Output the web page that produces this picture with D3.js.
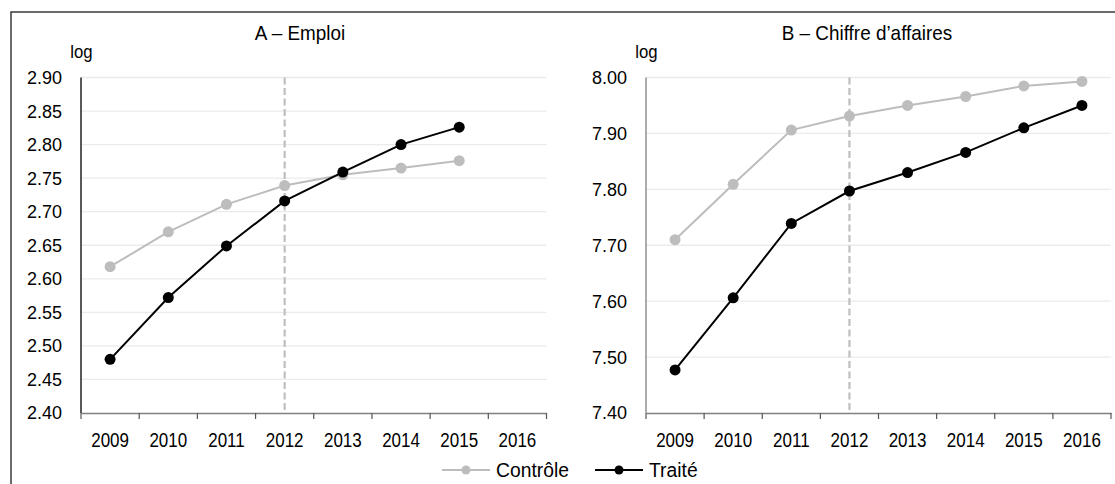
<!DOCTYPE html>
<html>
<head>
<meta charset="utf-8">
<script src="https://cdn.jsdelivr.net/npm/d3@7"></script>
<style>
  body { margin: 0; background: #fff; }
  svg text { font-family: "Liberation Sans", Arial, sans-serif; fill: #000; }
</style>
</head>
<body>
<svg id="chart" width="1115" height="484"></svg>
<script>
// years on x axis
const years = ['2009', '2010', '2011', '2012', '2013', '2014', '2015', '2016'];

// panel A - Emploi (log)
const emploiControle = [2.618, 2.670, 2.711, 2.739, 2.755, 2.765, 2.776];
const emploiTraite = [2.480, 2.572, 2.649, 2.716, 2.759, 2.800, 2.826];
const emploiTicks = [2.40, 2.45, 2.50, 2.55, 2.60, 2.65, 2.70, 2.75, 2.80, 2.85, 2.90];

// panel B - Chiffre d'affaires (log)
const caControle = [7.710, 7.809, 7.906, 7.931, 7.950, 7.966, 7.985, 7.993];
const caTraite = [7.477, 7.606, 7.739, 7.797, 7.830, 7.866, 7.910, 7.950];
const caTicks = [7.40, 7.50, 7.60, 7.70, 7.80, 7.90, 8.00];

const treatYear = '2012';
const grey = '#bdbdbd';

let svg = d3.select('#chart');

// the original font is a condensed one, no narrow face here so squeeze it
function putText(parent, x, y, txt, size, sx, anchor) {
  return parent.append('text')
    .attr('transform', `translate(${x},${y}) scale(${sx},1)`)
    .attr('text-anchor', anchor || 'start')
    .style('font-size', size + 'px')
    .text(txt);
}

// outer frame (right and bottom edges run off the picture)
svg.append('rect')
  .attr('x', 11).attr('y', 12)
  .attr('width', 1120).attr('height', 490)
  .attr('fill', 'none')
  .attr('stroke', '#3a3a3a')
  .attr('stroke-width', 1.5);

function makePanel(opts) {
  let x0 = opts.x0, x1 = opts.x1, top = 77.5, bottom = 413;

  let xScale = d3.scaleBand()
    .domain(years)
    .range([x0, x1]);

  let yScale = d3.scaleLinear()
    .domain([opts.ticks[0], opts.ticks[opts.ticks.length - 1]])
    .range([bottom, top]);

  let g = svg.append('g');

  // gridlines
  g.selectAll('.grid')
    .data(opts.ticks.slice(1))
    .enter()
    .append('line')
    .attr('x1', x0).attr('x2', x1)
    .attr('y1', (d) => yScale(d)).attr('y2', (d) => yScale(d))
    .attr('stroke', '#ebebeb')
    .attr('stroke-width', 1.3);

  // y tick labels
  g.selectAll('.ylab')
    .data(opts.ticks)
    .enter()
    .append('text')
    .attr('x', x0 - 19)
    .attr('y', (d) => yScale(d))
    .attr('dy', '0.36em')
    .attr('text-anchor', 'end')
    .style('font-size', '18px')
    .text((d) => d.toFixed(2));

  // dashed line at treatment year
  let xt = xScale(treatYear) + xScale.bandwidth() / 2;
  g.append('line')
    .attr('x1', xt).attr('x2', xt)
    .attr('y1', top).attr('y2', bottom)
    .attr('stroke', '#bfbfbf')
    .attr('stroke-width', 2.2)
    .attr('stroke-dasharray', '7,3.5');

  // y axis line
  g.append('line')
    .attr('x1', x0).attr('x2', x0)
    .attr('y1', top).attr('y2', bottom)
    .attr('stroke', opts.yAxisColor)
    .attr('stroke-width', 1.3);

  // x axis
  let xAxis = d3.axisBottom(xScale).tickSize(0);
  let ax = g.append('g')
    .attr('transform', `translate(0, ${bottom})`)
    .call(xAxis);
  ax.select('.domain').attr('stroke', '#808080').attr('stroke-width', 1.5);
  ax.selectAll('text')
    .attr('y', 34)
    .attr('dy', 0)
    .attr('transform', 'scale(0.81,1)')
    .attr('fill', '#000')
    .style('font-size', '21px');

  // ticks between categories
  let bounds = years.map((d) => xScale(d)).concat([x1]);
  g.selectAll('.xtick')
    .data(bounds)
    .enter()
    .append('line')
    .attr('x1', (d) => d).attr('x2', (d) => d)
    .attr('y1', bottom).attr('y2', bottom + 6)
    .attr('stroke', '#555')
    .attr('stroke-width', 1.2);

  let line = d3.line()
    .x((d, i) => xScale(years[i]) + xScale.bandwidth() / 2)
    .y((d) => yScale(d));

  [[opts.controle, grey], [opts.traite, '#000']].forEach(([vals, col]) => {
    g.append('path')
      .datum(vals)
      .attr('d', line)
      .attr('fill', 'none')
      .attr('stroke', col)
      .attr('stroke-width', 2);
    g.selectAll(null)
      .data(vals)
      .enter()
      .append('circle')
      .attr('cx', (d, i) => xScale(years[i]) + xScale.bandwidth() / 2)
      .attr('cy', (d) => yScale(d))
      .attr('r', 5.5)
      .attr('fill', col);
  });

  // panel title + unit
  putText(svg, opts.titleX, 40, opts.title, 21, 0.9, 'middle');
  putText(svg, x0 + 0.5, 58, 'log', 19, 0.88, 'middle');
}

makePanel({
  x0: 81, x1: 546.5, ticks: emploiTicks,
  controle: emploiControle, traite: emploiTraite,
  title: 'A \u2013 Emploi', titleX: 300, yAxisColor: '#000'
});

makePanel({
  x0: 646, x1: 1111, ticks: caTicks,
  controle: caControle, traite: caTraite,
  title: 'B \u2013 Chiffre d\u2019affaires', titleX: 867, yAxisColor: '#808080'
});

// legend
let legend = svg.append('g');
[['Contr\u00f4le', grey, 442], ['Trait\u00e9', '#000', 595]].forEach(([lab, col, lx]) => {
  legend.append('line')
    .attr('x1', lx).attr('x2', lx + 48)
    .attr('y1', 470).attr('y2', 470)
    .attr('stroke', col).attr('stroke-width', 2);
  legend.append('circle')
    .attr('cx', lx + 24).attr('cy', 470).attr('r', 4.5)
    .attr('fill', col);
  putText(legend, lx + 54, 477, lab, 21, 0.92, 'start');
});
</script>
</body>
</html>
